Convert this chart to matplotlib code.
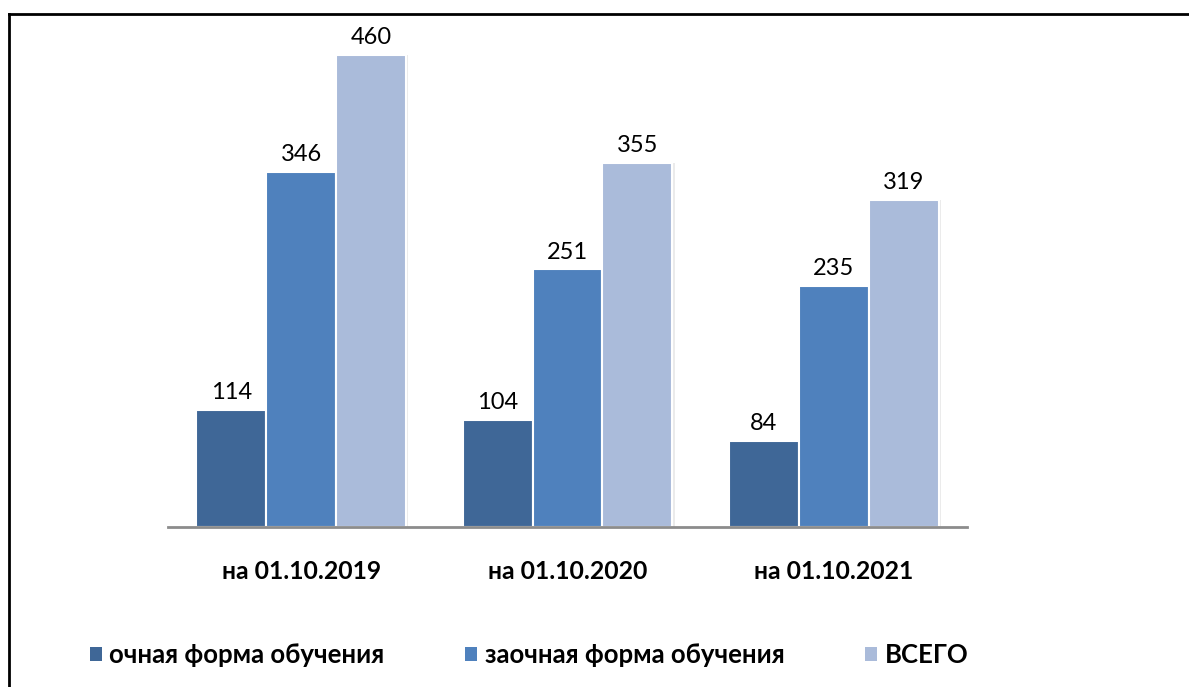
import matplotlib
matplotlib.use("Agg")
import matplotlib.pyplot as plt
import numpy as np
from matplotlib.lines import Line2D
from matplotlib.patches import Rectangle

categories = ["на 01.10.2019", "на 01.10.2020", "на 01.10.2021"]
series_names = ["очная форма обучения", "заочная форма обучения", "ВСЕГО"]
ochnaya = [114, 104, 84]
zaochnaya = [346, 251, 235]
vsego = [460, 355, 319]
colors = ["#3F6797", "#4F81BD", "#AABBDA"]

plt.rcParams['font.family'] = ['Lato', 'DejaVu Sans']

W, H = 1189, 687
fig = plt.figure(figsize=(W / 100, H / 100), dpi=100)
ax = fig.add_axes([168 / W, (H - 527) / H, 799 / W, 513 / H])

x = np.arange(len(categories))
bw = 70 / 266.5
data = [ochnaya, zaochnaya, vsego]
for i, (vals, col) in enumerate(zip(data, colors)):
    pos = x + (i - 1) * bw
    # shadow
    ax.bar(pos + 0.008, vals, bw, color="#000000", alpha=0.08, zorder=1)
    bars = ax.bar(pos, vals, bw, color=col, edgecolor="white", linewidth=1.5, zorder=2)
    for b, v in zip(bars, vals):
        ax.annotate(str(v), (b.get_x() + b.get_width() / 2, v), xytext=(0, 5),
                    textcoords="offset points", ha="center", va="bottom",
                    fontsize=17, color="black")

ax.set_xlim(-0.5, 2.5)
ax.set_ylim(0, 500)
for s in ["top", "right", "left"]:
    ax.spines[s].set_visible(False)
ax.spines["bottom"].set_color("#8C8C8C")
ax.spines["bottom"].set_linewidth(2)
ax.set_yticks([])
ax.set_xticks(x)
ax.set_xticklabels(categories, fontsize=17.8, fontweight="bold")
ax.tick_params(axis="x", length=0, pad=24)

# legend
handles = [Rectangle((0, 0), 1, 1, facecolor=c, edgecolor="none") for c in colors]
leg = fig.legend(handles, series_names, loc="center left", bbox_to_anchor=(90 / W, 1 - 655 / H),
                 ncol=3, frameon=False, prop={"size": 18.5, "weight": "bold"},
                 handlelength=0.45, handleheight=0.45, handletextpad=0.3, columnspacing=3.15,
                 borderpad=0, borderaxespad=0)

# border lines
fig.add_artist(Line2D([8.5 / W, 8.5 / W], [0, 1 - 13.5 / H], color="black", lw=2, transform=fig.transFigure))
fig.add_artist(Line2D([8.5 / W, 1], [1 - 13.5 / H, 1 - 13.5 / H], color="black", lw=2, transform=fig.transFigure))

fig.savefig("out.png", dpi=100)
